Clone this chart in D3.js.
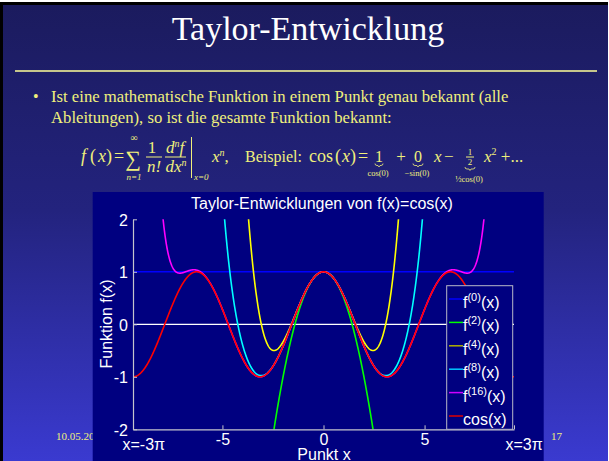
<!DOCTYPE html>
<html>
<head>
<meta charset="utf-8">
<script src="https://cdn.jsdelivr.net/npm/d3@7"></script>
<style>
  html, body { margin: 0; padding: 0; background: #ffffff; }
  svg { display: block; }
  .serif { font-family: 'Times New Roman', 'Liberation Serif', serif; }
  .sans { font-family: Arial, 'Liberation Sans', Helvetica, sans-serif; }
</style>
</head>
<body>
<svg id="slide" width="609" height="461"></svg>
<script>
// taylor orders that are plotted, plus derivatives of cos at x=0 (1, 0, -1, 0, ...)
const orders = [0, 2, 4, 8, 16];
const derivativesAtZero = [1, 0, -1, 0, 1, 0, -1, 0, 1, 0, -1, 0, 1, 0, -1, 0, 1];
const seriesNames = ['f0', 'f2', 'f4', 'f8', 'f16', 'cos'];
const legendLabels = [['f', '(0)', '(x)'], ['f', '(2)', '(x)'], ['f', '(4)', '(x)'],
  ['f', '(8)', '(x)'], ['f', '(16)', '(x)'], ['cos(x)', '', '']];
const COLORS = ['#0000ff', '#00ff00', '#ffff00', '#00ffff', '#ff00ff', '#ff0000'];
const LEGEND_COLORS = ['#0000ff', '#00ff00', '#b0b000', '#00c8ff', '#d000ff', '#e00000'];

const xDomain = [-3 * Math.PI, 3 * Math.PI];
const yTicks = [-2, -1, 0, 1, 2];
const xTicks = [-3 * Math.PI, -5, 0, 5, 3 * Math.PI];
const xTickLabels = ['x=-3\u03c0', '-5', '0', '5', 'x=3\u03c0'];

const svg = d3.select('#slide');

// --- slide background -------------------------------------------------
const defs = svg.append('defs');
const grad = defs.append('linearGradient')
  .attr('id', 'bg').attr('x1', 0).attr('y1', 0).attr('x2', 0).attr('y2', 1);
grad.append('stop').attr('offset', '0%').attr('stop-color', '#1b1b5e');
grad.append('stop').attr('offset', '45%').attr('stop-color', '#23237e');
grad.append('stop').attr('offset', '100%').attr('stop-color', '#3a3ad0');

svg.append('rect').attr('width', 609).attr('height', 461).attr('fill', '#ffffff');
svg.append('rect').attr('x', 0).attr('y', 2).attr('width', 608).attr('height', 459).attr('fill', '#000000');
svg.append('rect').attr('x', 3).attr('y', 5).attr('width', 605).attr('height', 456).attr('fill', 'url(#bg)');

svg.append('text').attr('class', 'serif')
  .attr('x', 308).attr('y', 40).attr('text-anchor', 'middle')
  .attr('font-size', 34).attr('fill', '#ffffff')
  .text('Taylor-Entwicklung');

svg.append('line')
  .attr('x1', 15).attr('x2', 597).attr('y1', 71).attr('y2', 71)
  .attr('stroke', '#ffff99').attr('stroke-width', 1.5);

const YEL = '#f0f07c';
svg.append('text').attr('class', 'serif')
  .attr('x', 33).attr('y', 102).attr('font-size', 16).attr('fill', YEL).text('\u2022');
svg.append('text').attr('class', 'serif')
  .attr('x', 51).attr('y', 102).attr('font-size', 16.7).attr('fill', YEL)
  .text('Ist eine mathematische Funktion in einem Punkt genau bekannt (alle');
svg.append('text').attr('class', 'serif')
  .attr('x', 51).attr('y', 123).attr('font-size', 16.7).attr('fill', YEL)
  .text('Ableitungen), so ist die gesamte Funktion bekannt:');

// --- formula -------------------------------------------------------------
const formula = svg.append('g').attr('class', 'serif').attr('fill', YEL);
function ftext(x, y, size, str, opts = {}) {
  const t = formula.append('text').attr('x', x).attr('y', y).attr('font-size', size)
    .attr('text-anchor', opts.anchor || 'start')
    .attr('font-style', opts.italic ? 'italic' : 'normal')
    .text(str);
  return t;
}
function fline(x1, y1, x2, y2) {
  formula.append('line').attr('x1', x1).attr('y1', y1).attr('x2', x2).attr('y2', y2)
    .attr('stroke', YEL).attr('stroke-width', 1);
}
function brace(cx, y, w) {
  formula.append('path')
    .attr('d', `M${cx - w / 2},${y} q0,2 2,2 h${w / 2 - 3} l1,1.5 l1,-1.5 h${w / 2 - 3} q2,0 2,-2`)
    .attr('fill', 'none').attr('stroke', YEL).attr('stroke-width', 0.8);
}
ftext(81, 162, 18, 'f', { italic: true });
ftext(90, 162, 18, '(');
ftext(98, 162, 18, 'x', { italic: true });
ftext(106, 162, 18, ')');
ftext(114, 162, 18, '=');
ftext(133, 166, 22, '\u2211', { anchor: 'middle' });
ftext(134, 141, 10, '\u221e', { anchor: 'middle' });
ftext(134, 180, 9, 'n=1', { anchor: 'middle', italic: true });
ftext(152, 153, 17, '1', { anchor: 'middle' });
fline(146, 157, 162, 157);
ftext(154, 172, 17, 'n!', { anchor: 'middle', italic: true });
ftext(175, 153, 17, 'd', { anchor: 'middle', italic: true }).append('tspan')
  .attr('dy', -6).attr('font-size', 10).text('n').clone(true).attr('dy', 6).attr('font-size', 17).text('f');
fline(165, 157, 186, 157);
ftext(176, 172, 17, 'dx', { anchor: 'middle', italic: true }).append('tspan')
  .attr('dy', -6).attr('font-size', 10).text('n');
fline(191.5, 137, 191.5, 178);
ftext(194, 180, 9, 'x=0', { italic: true });
ftext(212, 162, 17, 'x', { italic: true }).append('tspan')
  .attr('dy', -6).attr('font-size', 10).text('n')
  .clone(true).attr('dy', 6).attr('font-size', 17).attr('font-style', 'normal').text(',');
ftext(245, 162, 16, 'Beispiel:');
ftext(309, 162, 18, 'cos');
ftext(335, 162, 18, '(');
ftext(342, 162, 18, 'x', { italic: true });
ftext(350, 162, 18, ')');
ftext(358, 162, 18, '=');
ftext(379, 162, 16, '1', { anchor: 'middle' });
brace(379, 163.5, 8);
ftext(378, 176, 8.5, 'cos(0)', { anchor: 'middle' });
ftext(401, 162, 17, '+', { anchor: 'middle' });
ftext(418, 162, 16, '0', { anchor: 'middle' });
brace(418, 163.5, 10);
ftext(417, 176, 8.5, '\u2212sin(0)', { anchor: 'middle' });
ftext(434, 162, 17, 'x', { italic: true });
ftext(444, 162, 17, '\u2212');
ftext(470, 155, 9, '1', { anchor: 'middle' });
fline(466, 157, 474, 157);
ftext(470, 165, 9, '2', { anchor: 'middle' });
brace(470, 167, 10);
ftext(469, 182, 8.5, '\u00bdcos(0)', { anchor: 'middle' });
ftext(484, 162, 17, 'x', { italic: true }).append('tspan')
  .attr('dy', -7).attr('font-size', 10).attr('font-style', 'normal').text('2')
  .clone(true).attr('dy', 7).attr('font-size', 17).text(' +...');

// footer
svg.append('text').attr('class', 'serif').attr('x', 56).attr('y', 440)
  .attr('font-size', 11).attr('fill', YEL).text('10.05.2007');
svg.append('text').attr('class', 'serif').attr('x', 551).attr('y', 440)
  .attr('font-size', 11).attr('fill', YEL).text('17');

// --- matlab figure -------------------------------------------------------
const fig = svg.append('g').attr('class', 'sans');
fig.append('rect').attr('x', 92.7).attr('y', 192).attr('width', 451).attr('height', 269)
  .attr('fill', '#000080');

const plot = { left: 133, right: 514, top: 219.3, bottom: 429.3 };
const xScale = d3.scaleLinear().domain(xDomain).range([plot.left, plot.right]);
const yScale = d3.scaleLinear().domain([-2, 2]).range([plot.bottom, plot.top]);

defs.append('clipPath').attr('id', 'plotclip').append('rect')
  .attr('x', plot.left).attr('y', plot.top)
  .attr('width', plot.right - plot.left).attr('height', plot.bottom - plot.top);

function factorial(n) { return n <= 1 ? 1 : n * factorial(n - 1); }
function taylor(order) {
  return (x) => d3.sum(d3.range(order + 1), (n) => derivativesAtZero[n] / factorial(n) * Math.pow(x, n));
}
const fns = orders.map(taylor).concat([Math.cos]);
const xs = d3.range(xDomain[0], xDomain[1] + 1e-9, (xDomain[1] - xDomain[0]) / 1200);

const curves = fig.append('g').attr('clip-path', 'url(#plotclip)');

// white zero line
curves.append('path')
  .datum([xDomain[0], xDomain[1]])
  .attr('d', d3.line().x((d) => xScale(d)).y(() => yScale(0)))
  .attr('stroke', '#ffffff').attr('stroke-width', 1.2).attr('fill', 'none');

const line = d3.line()
  .x((d) => xScale(d[0]))
  .y((d) => yScale(Math.max(-3, Math.min(3, d[1]))));

curves.selectAll('path.curve')
  .data(fns)
  .join('path')
  .attr('class', 'curve')
  .attr('d', (fn) => line(xs.map((x) => [x, fn(x)])))
  .attr('fill', 'none')
  .attr('stroke', (_, i) => COLORS[i])
  .attr('stroke-width', 1.6);

// axes
const AXIS = '#c4c4cc';
const yAxis = fig.append('g')
  .attr('transform', `translate(${plot.left},0)`)
  .call(d3.axisLeft(yScale).tickValues(yTicks).tickFormat((d) => String(d))
    .tickSizeInner(-4).tickSizeOuter(0).tickPadding(5));
const xAxis = fig.append('g')
  .attr('transform', `translate(0,${plot.bottom})`)
  .call(d3.axisBottom(xScale).tickValues(xTicks).tickFormat((_, i) => xTickLabels[i])
    .tickSizeInner(-4).tickSizeOuter(0).tickPadding(4));

[xAxis, yAxis].forEach((ax) => {
  ax.select('.domain').attr('stroke', AXIS).attr('stroke-width', 1.2);
  ax.selectAll('.tick line').attr('stroke', AXIS);
  ax.selectAll('.tick text').attr('fill', '#ffffff').attr('font-size', 16)
    .attr('font-family', "Arial, 'Liberation Sans', sans-serif");
});
yAxis.selectAll('.tick text').attr('dy', '0.36em');
xAxis.selectAll('.tick text')
  .filter((_, i) => i === 0 || i === xTicks.length - 1)
  .attr('text-anchor', 'start')
  .attr('dx', (_, i) => (i === 0 ? -11 : -9))
  .attr('dy', '1.05em');

fig.append('text').attr('x', 322).attr('y', 209).attr('text-anchor', 'middle')
  .attr('font-size', 16).attr('fill', '#ffffff')
  .text('Taylor-Entwicklungen von f(x)=cos(x)');
fig.append('text').attr('x', 324).attr('y', 460).attr('text-anchor', 'middle')
  .attr('font-size', 16).attr('fill', '#ffffff').text('Punkt x');
fig.append('text')
  .attr('transform', 'translate(112,324) rotate(-90)')
  .attr('text-anchor', 'middle').attr('font-size', 16).attr('fill', '#ffffff')
  .text('Funktion f(x)');

// legend
const legend = fig.append('g');
legend.append('rect')
  .attr('x', 446.7).attr('y', 285.7).attr('width', 66).attr('height', 143.6)
  .attr('fill', '#000080').attr('stroke', '#b8b8c8').attr('stroke-width', 1);
const legendY = d3.scalePoint().domain(seriesNames).range([299, 416]);
const rows = legend.selectAll('g.row').data(seriesNames).join('g')
  .attr('class', 'row')
  .attr('transform', (d) => `translate(0,${legendY(d)})`);
rows.append('line').attr('x1', 449).attr('x2', 463).attr('y1', 0).attr('y2', 0)
  .attr('stroke', (_, i) => LEGEND_COLORS[i]).attr('stroke-width', 1.5);
const lt = rows.append('text').attr('x', 463).attr('y', 9)
  .attr('font-size', 16).attr('fill', '#ffffff');
lt.append('tspan').text((_, i) => legendLabels[i][0]);
lt.append('tspan').attr('dy', -7).attr('font-size', 11).text((_, i) => legendLabels[i][1]);
lt.append('tspan').attr('dy', (_, i) => (legendLabels[i][1] ? 7 : 0)).text((_, i) => legendLabels[i][2]);
</script>
</body>
</html>
